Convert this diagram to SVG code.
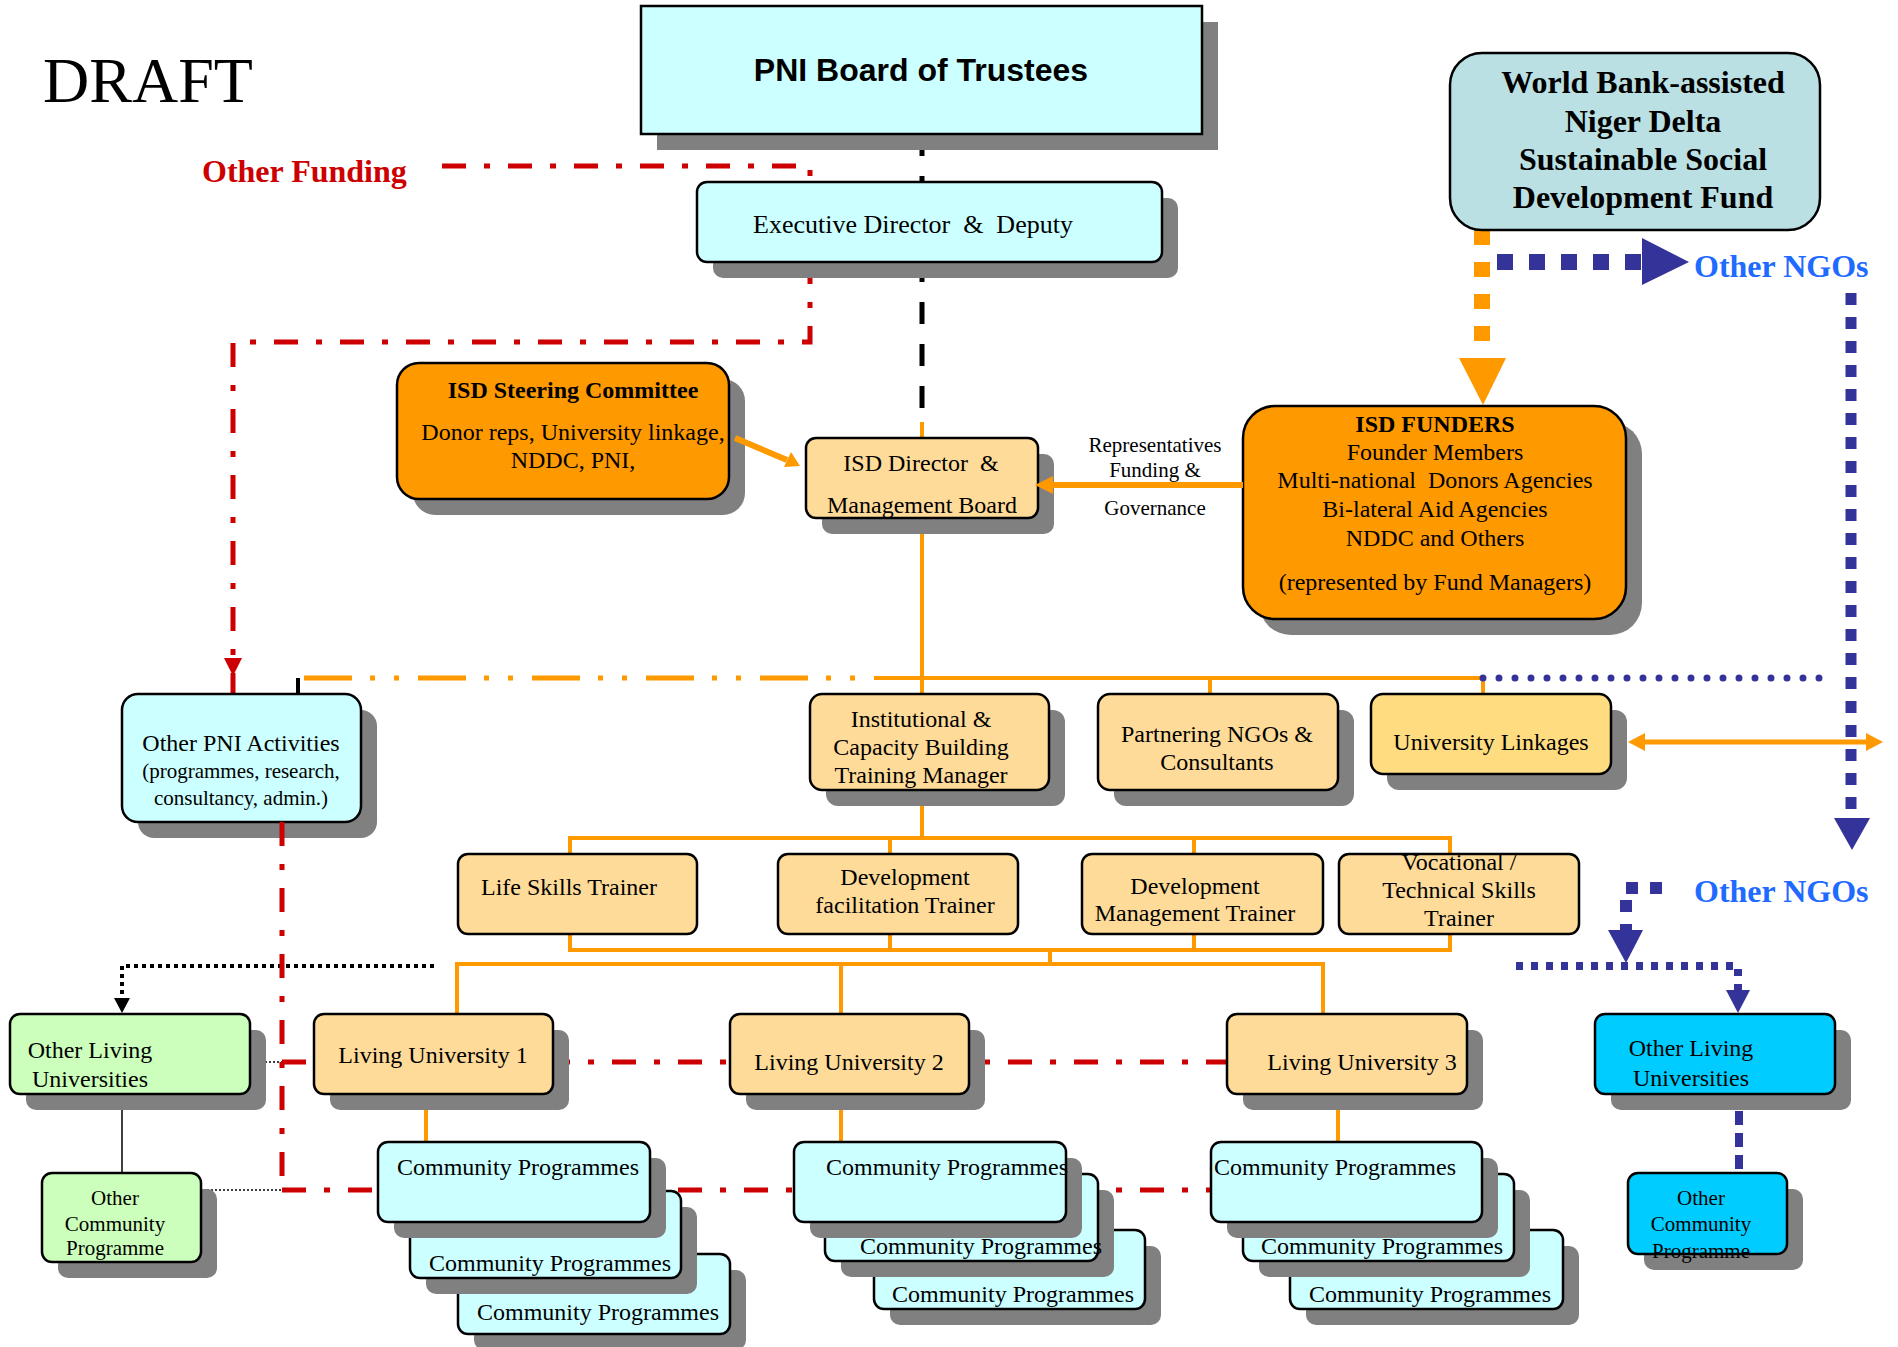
<svg xmlns="http://www.w3.org/2000/svg" width="1898" height="1347" viewBox="0 0 1898 1347">
<style>
.sh{fill:#808080}
.bx{stroke:#000;stroke-width:2.5}
.cyan{fill:#CCFFFF}
.org{fill:#FF9900}
.lor{fill:#FFDB99}
.yel{fill:#FFDC80}
.grn{fill:#CCFFBB}
.blu{fill:#00CCFF}
.wb{fill:#BBE0E3}
text{font-family:"Liberation Serif","Times New Roman",serif;font-size:24px;fill:#000}
.c{text-anchor:middle}
.b{font-weight:bold}
.s21{font-size:21px}
.ngo{font-size:32px;font-weight:bold;fill:#1F6AFF}
.red{fill:none;stroke:#CC0000;stroke-width:5;stroke-dasharray:24 18 6 18}
.or{fill:none;stroke:#FF9900;stroke-width:4}
.bl{fill:none;stroke:#333399}
</style>

<g id="connectors">
  <path class="red" d="M442,166 H810 V342 H233 V694"/>
  <path class="red" d="M282,1062 H1227"/>
  <path class="red" d="M282,1190 H1211"/>
  <path d="M922,134 V422" fill="none" stroke="#000" stroke-width="5" stroke-dasharray="22 20"/>
  <path class="or" d="M922,422 V694 M922,790 V838 M570,854 V838 H1450 V854 M890,838 V854 M1194,838 V854"/>
  <path class="or" d="M570,934 V950 H1450 V934 M890,934 V950 M1194,934 V950 M1050,950 V964 M457,1014 V964 H1323 V1014 M841,964 V1014"/>
  <path class="or" d="M426,1094 V1142 M841,1094 V1142 M1338,1094 V1142"/>
  <path class="or" d="M874,678 H1483 V694 M1210,678 V694"/>
  <path fill="none" stroke="#FF9900" stroke-width="5" stroke-dasharray="48 18 5 19 5 19" d="M304,678 H874"/>
  <path d="M298,678 V694" stroke="#000" stroke-width="4"/>
  <path class="bl" stroke-width="7" stroke-linecap="round" stroke-dasharray="0 16" d="M1483,678 H1822"/>
  <path fill="none" stroke="#FF9900" stroke-width="16" stroke-dasharray="15 17" d="M1482,230 V358"/>
  <polygon points="1459,358 1506,358 1483,405" fill="#FF9900"/>
  <path class="bl" stroke-width="16" stroke-dasharray="16 16" d="M1497,262 H1643"/>
  <polygon points="1642,238 1642,285 1689,262" fill="#333399"/>
  <path class="bl" stroke-width="11" stroke-dasharray="12 12" d="M1851,293 V818"/>
  <polygon points="1834,818 1870,818 1852,850" fill="#333399"/>
  <path class="bl" stroke-width="12" stroke-dasharray="12 12" d="M1662,888 H1626 V931"/>
  <polygon points="1608,930 1643,930 1626,963" fill="#333399"/>
  <path class="bl" stroke-width="8" stroke-dasharray="7 8" d="M1516,966 H1738 V990"/>
  <polygon points="1726,990 1750,990 1738,1013" fill="#333399"/>
  <path class="bl" stroke-width="8" stroke-dasharray="14 8" d="M1739,1111 V1173"/>
  <path fill="none" stroke="#000" stroke-width="4" stroke-dasharray="4 4" d="M434,966 H122 V999"/>
  <polygon points="114,998 130,998 122,1013" fill="#000"/>
  <path d="M122,1094 V1173" stroke="#000" stroke-width="1.5"/>
  <path d="M265,1062 H282 M203,1190 H282" stroke="#000" stroke-width="1.5" stroke-dasharray="2 2"/>
</g>

<text x="43" y="102" style="font-size:64px">DRAFT</text>
<text x="202" y="182" class="b" style="font-size:32px;fill:#CC0000">Other Funding</text>
<text x="1694" y="277" class="ngo">Other NGOs</text>
<text x="1694" y="902" class="ngo">Other NGOs</text>
<g id="rep-label">
  <text x="1155" y="452" class="c s21">Representatives</text>
  <text x="1155" y="477" class="c s21">Funding &amp;</text>
  <text x="1155" y="515" class="c s21">Governance</text>
</g>

<g id="board">
  <rect class="sh" x="657" y="22" width="561" height="128"/>
  <rect class="bx cyan" x="641" y="6" width="561" height="128"/>
  <text x="921" y="81" class="c b" style="font-family:'Liberation Sans',Arial,sans-serif;font-size:32px">PNI Board of Trustees</text>
</g>
<g id="exec">
  <rect class="sh" x="713" y="198" width="465" height="80" rx="10"/>
  <rect class="bx cyan" x="697" y="182" width="465" height="80" rx="10"/>
  <text x="913" y="233" class="c" style="font-size:26px" xml:space="preserve">Executive Director  &amp;  Deputy</text>
</g>
<g id="worldbank">
  <rect class="bx wb" x="1450" y="53" width="370" height="177" rx="32"/>
  <text x="1643" y="93" class="c b" style="font-size:32px">World Bank-assisted</text>
  <text x="1643" y="132" class="c b" style="font-size:32px">Niger Delta</text>
  <text x="1643" y="170" class="c b" style="font-size:32px">Sustainable Social</text>
  <text x="1643" y="208" class="c b" style="font-size:32px">Development Fund</text>
</g>
<g id="steering">
  <rect class="sh" x="413" y="379" width="332" height="136" rx="22"/>
  <rect class="bx org" x="397" y="363" width="332" height="136" rx="22"/>
  <text x="573" y="398" class="c b">ISD Steering Committee</text>
  <text x="573" y="440" class="c">Donor reps, University linkage,</text>
  <text x="573" y="468" class="c">NDDC, PNI,</text>
</g>
<g id="isddir">
  <rect class="sh" x="822" y="454" width="232" height="80" rx="10"/>
  <rect class="bx lor" x="806" y="438" width="232" height="80" rx="10"/>
  <text x="921" y="471" class="c" xml:space="preserve">ISD Director  &amp;</text>
  <text x="922" y="513" class="c">Management Board</text>
</g>
<g id="funders">
  <rect class="sh" x="1259" y="422" width="383" height="213" rx="32"/>
  <rect class="bx org" x="1243" y="406" width="383" height="213" rx="32"/>
  <text x="1435" y="432" class="c b">ISD FUNDERS</text>
  <text x="1435" y="460" class="c">Founder Members</text>
  <text x="1435" y="488" class="c" xml:space="preserve">Multi-national  Donors Agencies</text>
  <text x="1435" y="517" class="c">Bi-lateral Aid Agencies</text>
  <text x="1435" y="546" class="c">NDDC and Others</text>
  <text x="1435" y="590" class="c">(represented by Fund Managers)</text>
</g>
<g id="otherpni">
  <rect class="sh" x="138" y="710" width="239" height="128" rx="16"/>
  <rect class="bx cyan" x="122" y="694" width="239" height="128" rx="16"/>
  <text x="241" y="751" class="c">Other PNI Activities</text>
  <text x="241" y="778" class="c s21">(programmes, research,</text>
  <text x="241" y="805" class="c s21">consultancy, admin.)</text>
</g>
<g id="inst">
  <rect class="sh" x="826" y="710" width="239" height="96" rx="12"/>
  <rect class="bx lor" x="810" y="694" width="239" height="96" rx="12"/>
  <text x="921" y="727" class="c">Institutional &amp;</text>
  <text x="921" y="755" class="c">Capacity Building</text>
  <text x="921" y="783" class="c">Training Manager</text>
</g>
<g id="partner">
  <rect class="sh" x="1114" y="710" width="240" height="96" rx="12"/>
  <rect class="bx lor" x="1098" y="694" width="240" height="96" rx="12"/>
  <text x="1217" y="742" class="c">Partnering NGOs &amp;</text>
  <text x="1217" y="770" class="c">Consultants</text>
</g>
<g id="univlink">
  <rect class="sh" x="1387" y="710" width="240" height="80" rx="12"/>
  <rect class="bx yel" x="1371" y="694" width="240" height="80" rx="12"/>
  <text x="1491" y="750" class="c">University Linkages</text>
</g>
<g id="lifeskills">
  <rect class="bx lor" x="458" y="854" width="239" height="80" rx="10"/>
  <text x="569" y="895" class="c">Life Skills Trainer</text>
</g>
<g id="devfac">
  <rect class="bx lor" x="778" y="854" width="240" height="80" rx="10"/>
  <text x="905" y="885" class="c">Development</text>
  <text x="905" y="913" class="c">facilitation Trainer</text>
</g>
<g id="devmgmt">
  <rect class="bx lor" x="1082" y="854" width="241" height="80" rx="10"/>
  <text x="1195" y="894" class="c">Development</text>
  <text x="1195" y="921" class="c">Management Trainer</text>
</g>
<g id="vocational">
  <rect class="bx lor" x="1339" y="854" width="240" height="80" rx="10"/>
  <text x="1459" y="870" class="c">Vocational /</text>
  <text x="1459" y="898" class="c">Technical Skills</text>
  <text x="1459" y="926" class="c">Trainer</text>
</g>
<g id="olu-green">
  <rect class="sh" x="26" y="1030" width="240" height="80" rx="10"/>
  <rect class="bx grn" x="10" y="1014" width="240" height="80" rx="10"/>
  <text x="90" y="1058" class="c">Other Living</text>
  <text x="90" y="1087" class="c">Universities</text>
</g>
<g id="ocp-green">
  <rect class="sh" x="58" y="1189" width="159" height="89" rx="10"/>
  <rect class="bx grn" x="42" y="1173" width="159" height="89" rx="10"/>
  <text x="115" y="1205" class="c s21">Other</text>
  <text x="115" y="1231" class="c s21">Community</text>
  <text x="115" y="1255" class="c s21">Programme</text>
</g>
<g id="lu1">
  <rect class="sh" x="330" y="1030" width="239" height="80" rx="10"/>
  <rect class="bx lor" x="314" y="1014" width="239" height="80" rx="10"/>
  <text x="433" y="1063" class="c">Living University 1</text>
</g>
<g id="lu2">
  <rect class="sh" x="746" y="1030" width="239" height="80" rx="10"/>
  <rect class="bx lor" x="730" y="1014" width="239" height="80" rx="10"/>
  <text x="849" y="1070" class="c">Living University 2</text>
</g>
<g id="lu3">
  <rect class="sh" x="1243" y="1030" width="240" height="80" rx="10"/>
  <rect class="bx lor" x="1227" y="1014" width="240" height="80" rx="10"/>
  <text x="1362" y="1070" class="c">Living University 3</text>
</g>
<g id="cp1">
  <rect class="sh" x="474" y="1270" width="272" height="80" rx="10"/>
  <rect class="bx cyan" x="458" y="1254" width="272" height="80" rx="10"/>
  <text x="598" y="1320" class="c">Community Programmes</text>
  <rect class="sh" x="426" y="1207" width="271" height="87" rx="10"/>
  <rect class="bx cyan" x="410" y="1191" width="271" height="87" rx="10"/>
  <text x="550" y="1271" class="c">Community Programmes</text>
  <rect class="sh" x="394" y="1158" width="272" height="80" rx="10"/>
  <rect class="bx cyan" x="378" y="1142" width="272" height="80" rx="10"/>
  <text x="518" y="1175" class="c">Community Programmes</text>
</g>
<g id="cp2">
  <rect class="sh" x="890" y="1246" width="271" height="79" rx="10"/>
  <rect class="bx cyan" x="874" y="1230" width="271" height="79" rx="10"/>
  <text x="1013" y="1302" class="c">Community Programmes</text>
  <rect class="sh" x="841" y="1190" width="273" height="87" rx="10"/>
  <rect class="bx cyan" x="825" y="1174" width="273" height="87" rx="10"/>
  <text x="981" y="1254" class="c">Community Programmes</text>
  <rect class="sh" x="810" y="1158" width="272" height="80" rx="10"/>
  <rect class="bx cyan" x="794" y="1142" width="272" height="80" rx="10"/>
  <text x="947" y="1175" class="c">Community Programmes</text>
</g>
<g id="cp3">
  <rect class="sh" x="1306" y="1246" width="273" height="79" rx="10"/>
  <rect class="bx cyan" x="1290" y="1230" width="273" height="79" rx="10"/>
  <text x="1430" y="1302" class="c">Community Programmes</text>
  <rect class="sh" x="1259" y="1190" width="271" height="87" rx="10"/>
  <rect class="bx cyan" x="1243" y="1174" width="271" height="87" rx="10"/>
  <text x="1382" y="1254" class="c">Community Programmes</text>
  <rect class="sh" x="1227" y="1158" width="271" height="80" rx="10"/>
  <rect class="bx cyan" x="1211" y="1142" width="271" height="80" rx="10"/>
  <text x="1335" y="1175" class="c">Community Programmes</text>
</g>
<g id="olu-blue">
  <rect class="sh" x="1611" y="1030" width="240" height="80" rx="10"/>
  <rect class="bx blu" x="1595" y="1014" width="240" height="80" rx="10"/>
  <text x="1691" y="1056" class="c">Other Living</text>
  <text x="1691" y="1086" class="c">Universities</text>
</g>
<g id="ocp-blue">
  <rect class="sh" x="1644" y="1189" width="159" height="81" rx="10"/>
  <rect class="bx blu" x="1628" y="1173" width="159" height="81" rx="10"/>
  <text x="1701" y="1205" class="c s21">Other</text>
  <text x="1701" y="1231" class="c s21">Community</text>
  <text x="1701" y="1258" class="c s21">Programme</text>
</g>

<g id="connectors-front">
  <path class="red" d="M282,822 V1190"/>
  <polygon points="224,658 242,658 233,676" fill="#CC0000"/>
  <path d="M735,438 L787,460" stroke="#FF9900" stroke-width="6"/>
  <polygon points="800,466 784,467 791,452" fill="#FF9900"/>
  <path d="M1243,485 H1050" stroke="#FF9900" stroke-width="6"/>
  <polygon points="1035,485 1053,476 1053,494" fill="#FF9900"/>
  <path d="M1642,742 H1868" stroke="#FF9900" stroke-width="5"/>
  <polygon points="1628,742 1645,733 1645,751" fill="#FF9900"/>
  <polygon points="1883,742 1866,733 1866,751" fill="#FF9900"/>
</g>
</svg>
